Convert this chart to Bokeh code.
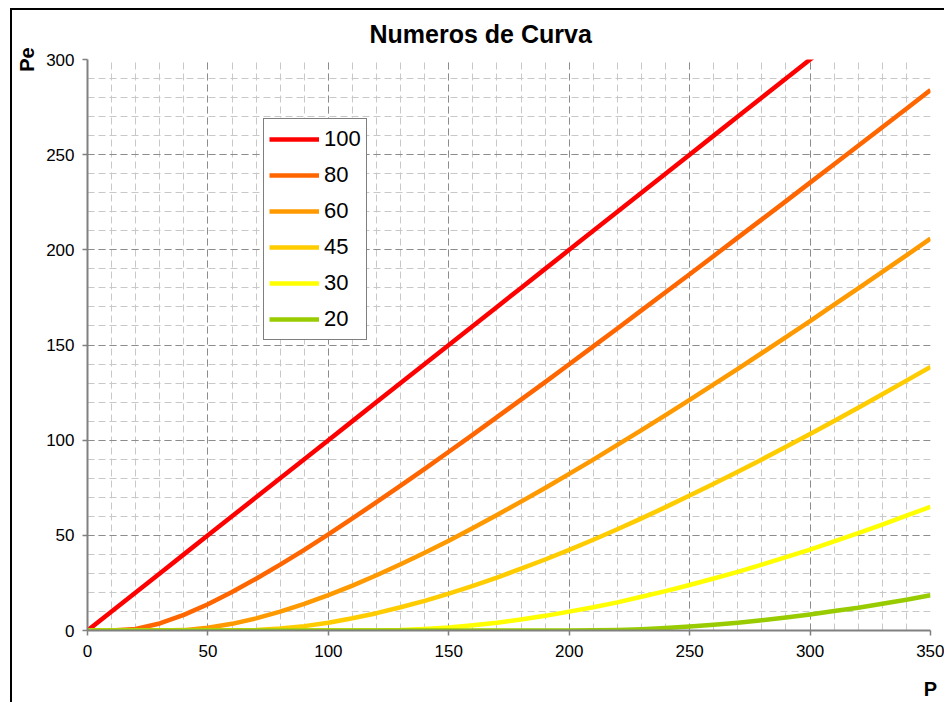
from bokeh.plotting import figure
from bokeh.models import Range1d, SingleIntervalTicker, Legend, LegendItem
from bokeh.embed import file_html
from bokeh.resources import INLINE

# Precipitation P and effective precipitation Pe for each curve number
p_vals = [0, 10, 20, 30, 40, 50, 60, 70, 80, 90, 100, 110, 120, 130, 140, 150, 160, 170,
          180, 190, 200, 210, 220, 230, 240, 250, 260, 270, 280, 290, 300, 310, 320, 330,
          340, 350]

pe_cn100 = [0, 10, 20, 30, 40, 50, 60, 70, 80, 90, 100, 110, 120, 130, 140, 150, 160, 170,
            180, 190, 200, 210, 220, 230, 240, 250, 260, 270, 280, 290, 300, 310, 320, 330,
            340, 350]
pe_cn80 = [0, 0, 0.8, 3.7, 8.2, 13.8, 20.2, 27.2, 34.6, 42.4, 50.5, 58.9, 67.4, 76.1, 84.9,
           93.9, 102.9, 112.1, 121.3, 130.5, 139.9, 149.3, 158.7, 168.2, 177.7, 187.2, 196.8,
           206.4, 216.0, 225.6, 235.3, 245.0, 254.7, 264.4, 274.1, 283.9]
pe_cn60 = [0, 0, 0, 0, 0.2, 1.4, 3.5, 6.4, 9.9, 14.0, 18.6, 23.6, 29.0, 34.8, 40.9, 47.2,
           53.8, 60.7, 67.7, 74.9, 82.3, 89.8, 97.5, 105.3, 113.2, 121.2, 129.3, 137.5, 145.8,
           154.2, 162.6, 171.2, 179.8, 188.4, 197.1, 205.9]
pe_cn45 = [0, 0, 0, 0, 0, 0, 0, 0.2, 1.0, 2.3, 4.1, 6.4, 9.1, 12.2, 15.6, 19.4, 23.5, 27.8,
           32.5, 37.3, 42.4, 47.7, 53.2, 58.9, 64.8, 70.9, 77.1, 83.4, 89.9, 96.5, 103.2,
           110.1, 117.0, 124.1, 131.3, 138.5]
pe_cn30 = [0, 0, 0, 0, 0, 0, 0, 0, 0, 0, 0, 0, 0, 0.2, 0.8, 1.6, 2.7, 4.1, 5.8, 7.7, 9.9,
           12.2, 14.8, 17.7, 20.7, 23.9, 27.3, 30.8, 34.6, 38.5, 42.5, 46.8, 51.1, 55.6, 60.3,
           65.0]
pe_cn20 = [0, 0, 0, 0, 0, 0, 0, 0, 0, 0, 0, 0, 0, 0, 0, 0, 0, 0, 0, 0, 0, 0.1, 0.3, 0.7,
           1.3, 2.1, 3.0, 4.1, 5.4, 6.8, 8.4, 10.2, 12.0, 14.1, 16.2, 18.5]

curve_labels = ["100", "80", "60", "45", "30", "20"]
curve_series = [pe_cn100, pe_cn80, pe_cn60, pe_cn45, pe_cn30, pe_cn20]
curve_colors = ["#FF0000", "#FF6600", "#FF9900", "#FFCC00", "#FFFF00", "#99CC00"]

FONT = "Liberation Sans"

p = figure(width=944, height=702, output_backend="svg", toolbar_location=None,
           x_range=Range1d(0, 350), y_range=Range1d(0, 300),
           min_border_left=87, min_border_right=14, min_border_top=59,
           min_border_bottom=71, title="Numeros de Curva")
p.outline_line_color = None
p.background_fill_color = "white"
p.border_fill_color = None
# thin black frame along the top and left edges of the chart area
p.styles = {
    "background-color": "white",
    "box-shadow": "inset 10px 8px 0 0 white, inset 12px 10px 0 0 black",
}

p.title.text_font = FONT
p.title.text_font_size = "25px"
p.title.text_font_style = "bold"
p.title.text_color = "black"
p.title.align = "left"
p.title.offset = 282
p.title.standoff = 24

# axes
for ax in (p.xaxis[0], p.yaxis[0]):
    ax.ticker = SingleIntervalTicker(interval=50, num_minor_ticks=5)
    ax.axis_line_color = "#808080"
    ax.axis_line_width = 2
    ax.major_tick_line_color = "#808080"
    ax.major_tick_line_width = 1.5
    ax.major_tick_out = 5
    ax.major_tick_in = 0
    ax.minor_tick_line_color = None
    ax.major_label_text_font = FONT
    ax.major_label_text_font_size = "17px"
    ax.major_label_text_color = "black"
    ax.axis_label_text_font = FONT
    ax.axis_label_text_font_size = "20px"
    ax.axis_label_text_font_style = "bold"
    ax.axis_label_text_color = "black"
    ax.axis_label_align = "end"
p.xaxis.major_label_standoff = 9
p.yaxis.major_label_standoff = 8
p.xaxis.axis_label = "P"
p.xaxis.axis_label_standoff = 18
p.yaxis.axis_label = "Pe"
p.yaxis.axis_label_standoff = 5

# dashed major and minor grid
for g in (p.xgrid[0], p.ygrid[0]):
    g.grid_line_color = "#8c8c8c"
    g.grid_line_dash = "7 4"
    g.grid_line_width = 1
    g.minor_grid_line_color = "#c8c8c8"
    g.minor_grid_line_dash = "7 4"
    g.minor_grid_line_width = 1

items = []
for lab, ys, col in zip(curve_labels, curve_series, curve_colors):
    r = p.line(p_vals, ys, line_color=col, line_width=4.5, line_join="round")
    items.append(LegendItem(label=lab, renderers=[r]))

legend = Legend(items=items, location=(176, 290))
legend.border_line_color = "black"
legend.border_line_width = 1
legend.background_fill_color = "white"
legend.background_fill_alpha = 1
legend.label_text_font = FONT
legend.label_text_font_size = "22px"
legend.label_text_color = "black"
legend.glyph_width = 50
legend.glyph_height = 30
legend.label_height = 30
legend.label_standoff = 5
legend.spacing = 6
legend.padding = 5
legend.margin = 0
p.add_layout(legend, "center")

open("out.html", "w").write(file_html(p, INLINE))
